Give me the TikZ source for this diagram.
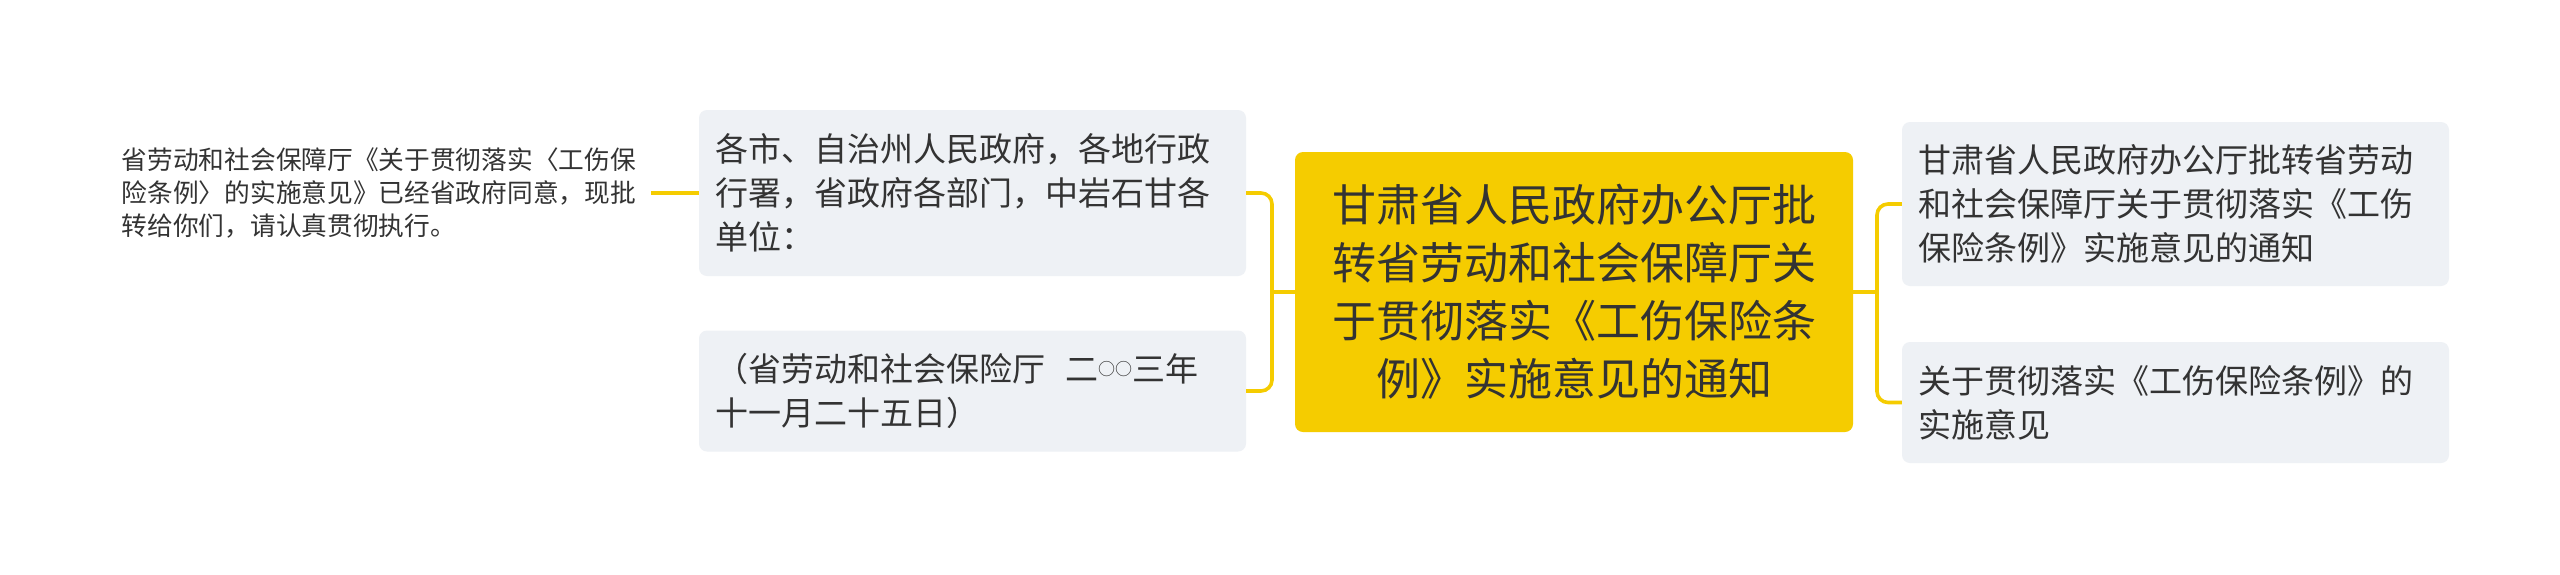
\documentclass[tikz,border=0pt]{standalone}
\usepackage{fontspec}
\newfontfamily\cjk{Noto Sans CJK SC}
\definecolor{gold}{HTML}{F5CC00}
\definecolor{boxgrey}{HTML}{EEF1F5}
\definecolor{ink}{HTML}{333333}
\tikzset{
  subbox/.style={fill=boxgrey, rounded corners=8pt, text=ink,
    font=\cjk\fontsize{33}{44}\selectfont, text width=515pt, align=left,
    inner xsep=16pt, inner ysep=0pt, minimum width=547pt},
  rootbox/.style={fill=gold, rounded corners=8pt, text=ink,
    font=\cjk\fontsize{44}{58}\selectfont, text width=520pt, align=center,
    inner xsep=19pt, inner ysep=0pt, minimum width=558pt, minimum height=280pt},
  plaintext/.style={text=ink, font=\cjk\fontsize{25.7}{33}\selectfont,
    text width=516pt, align=left, inner xsep=13pt, inner ysep=0pt},
  conn/.style={draw=gold, line width=3.6pt, rounded corners=11pt}
}
\begin{document}
\begin{tikzpicture}[x=1pt,y=-1pt]
\useasboundingbox (0,0) rectangle (2560,574);
\fill[white] (0,0) rectangle (2560,574);

\node[rootbox] (root) at (1574,292) {甘肃省人民政府办公厅批\\转省劳动和社会保障厅关\\于贯彻落实《工伤保险条\\例》实施意见的通知};

\node[subbox, minimum height=166pt] (b1) at (972.5,193) {各市、自治州人民政府，各地行政\\行署，省政府各部门，中岩石甘各\\单位：};
\node[subbox, minimum height=121pt] (b2) at (972.5,391) {（省劳动和社会保险厅\hspace{20pt}二\raisebox{6pt}{\fontsize{17}{17}\selectfont ○○}三年\\十一月二十五日）};

\node[plaintext, anchor=east] (lt) at (651,193) {省劳动和社会保障厅《关于贯彻落实〈工伤保\\险条例〉的实施意见》已经省政府同意，现批\\转给你们，请认真贯彻执行。};

\node[subbox, minimum height=164pt] (r1) at (2175.5,204) {甘肃省人民政府办公厅批转省劳动\\和社会保障厅关于贯彻落实《工伤\\保险条例》实施意见的通知};
\node[subbox, minimum height=121pt] (r2) at (2175.5,402.5) {关于贯彻落实《工伤保险条例》的\\实施意见};

\coordinate (jl) at (1272,292);
\coordinate (jr) at (1877,292);

\draw[conn] (lt.east) -- (b1.west);
\draw[conn] (b1.east) -| (jl) |- (b2.east);
\draw[conn] (jl) -- (root.west);
\draw[conn] (root.east) -- (jr);
\draw[conn] (r1.west) -| (jr) |- (r2.west);
\end{tikzpicture}
\end{document}
